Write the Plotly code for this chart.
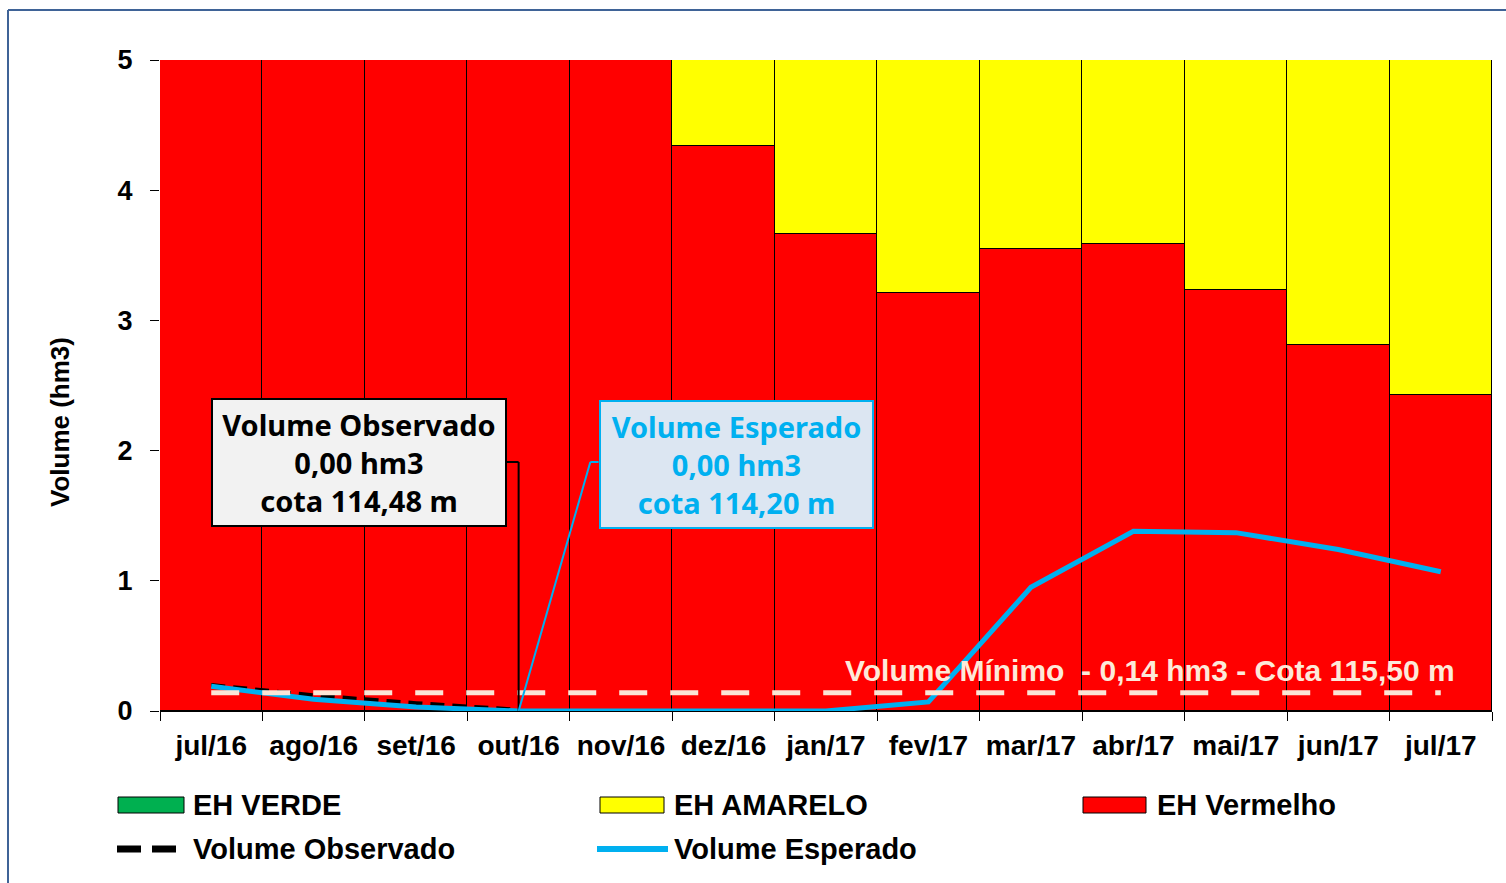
import plotly.graph_objects as go

# ---------------- data ----------------
categories = ["jul/16", "ago/16", "set/16", "out/16", "nov/16", "dez/16", "jan/17",
              "fev/17", "mar/17", "abr/17", "mai/17", "jun/17", "jul/17"]
eh_vermelho = [5.00, 5.00, 5.00, 5.00, 5.00, 4.34, 3.66, 3.21, 3.55, 3.59, 3.23, 2.81, 2.43]
eh_amarelo = [0.00, 0.00, 0.00, 0.00, 0.00, 0.66, 1.34, 1.79, 1.45, 1.41, 1.77, 2.19, 2.57]
eh_verde = [0, 0, 0, 0, 0, 0, 0, 0, 0, 0, 0, 0, 0]
vol_observado = [0.20, 0.12, 0.06, 0.01, None, None, None, None, None, None, None, None, None]
vol_esperado = [0.19, 0.09, 0.03, 0.00, 0.00, 0.00, 0.00, 0.07, 0.95, 1.38, 1.37, 1.24, 1.07]
vol_minimo = [0.14, 0.14, 0.14, 0.14, 0.14, 0.14, 0.14, 0.14, 0.14, 0.14, 0.14, 0.14, 0.14]

obs_label = "Volume Observado<br>0,00 hm3<br>cota 114,48 m"
esp_label = "Volume Esperado<br>0,00 hm3<br>cota 114,20 m"
min_label = "Volume Mínimo  - 0,14 hm3 - Cota 115,50 m"
callout_month = "out/16"

# ---------------- layout helpers ----------------
W, H = 1506, 883
L, R, T, B = 160, 14, 60, 172
PW, PH = W - L - R, H - T - B


def px(x):
    return (x - L) / PW


def py(y):
    return (H - B - y) / PH


ARIAL = "Liberation Sans, Arial, sans-serif"
CAL = "Noto Sans, Carlito, Calibri, sans-serif"
CYAN = "#00b0f0"

fig = go.Figure()
fig.add_bar(x=categories, y=eh_vermelho, name="EH Vermelho",
            marker=dict(color="#ff0000", line=dict(color="black", width=1.2)))
fig.add_bar(x=categories, y=eh_amarelo, name="EH AMARELO",
            marker=dict(color="#ffff00", line=dict(color="black", width=1.2)))
fig.add_bar(x=categories, y=eh_verde, name="EH VERDE",
            marker=dict(color="#00b050", line=dict(color="black", width=1.2)))
fig.add_scatter(x=categories, y=vol_observado, name="Volume Observado", mode="lines",
                line=dict(color="black", width=4, dash="14px,8px"))
fig.add_scatter(x=categories, y=vol_esperado, name="Volume Esperado", mode="lines",
                line=dict(color=CYAN, width=5))
fig.add_scatter(x=categories, y=vol_minimo, name="Volume Mínimo", mode="lines",
                line=dict(color="#fbe5d6", width=5, dash="28px,23px"))

fig.update_layout(
    width=W, height=H, barmode="stack", bargap=0,
    margin=dict(l=L, r=R, t=T, b=B),
    paper_bgcolor="white", plot_bgcolor="white",
    showlegend=False,
    font=dict(family=ARIAL, color="black"),
)
fig.update_xaxes(showgrid=False, showline=True, linecolor="black", linewidth=1,
                 ticks="outside", tickson="boundaries", ticklen=9, tickcolor="black",
                 tickfont=dict(family=ARIAL, size=28, weight="bold", color="black"),
                 ticklabelstandoff=9)
fig.update_yaxes(range=[0, 5], dtick=1, showgrid=False, zeroline=False, showline=False,
                 ticks="outside", ticklen=9, tickcolor="black",
                 tickfont=dict(family=ARIAL, size=27, weight="bold", color="black"),
                 ticklabelstandoff=12)

anns = []
shapes = []

# y axis title
anns.append(dict(x=px(60), y=py(422), xref="paper", yref="paper", text="Volume (hm3)",
                 textangle=-90, showarrow=False, xanchor="center", yanchor="middle",
                 font=dict(family=ARIAL, size=26, weight="bold", color="black")))

# Volume minimo label
anns.append(dict(x=px(1457), y=py(670), xref="paper", yref="paper", text=min_label,
                 xanchor="right", yanchor="middle", showarrow=False,
                 font=dict(family=ARIAL, size=30, weight="bold", color="#fde9d9")))

# callouts
anns.append(dict(x=px(359), y=py(462), xref="paper", yref="paper", text=obs_label,
                 showarrow=False, width=292, height=125, borderpad=0,
                 xanchor="center", yanchor="middle",
                 bgcolor="#f2f2f2", bordercolor="black", borderwidth=2,
                 font=dict(family=CAL, size=29, weight="bold", color="black")))
anns.append(dict(x=px(736.5), y=py(464), xref="paper", yref="paper", text=esp_label,
                 showarrow=False, width=271, height=125, borderpad=0,
                 xanchor="center", yanchor="middle",
                 bgcolor="#dce6f2", bordercolor=CYAN, borderwidth=2,
                 font=dict(family=CAL, size=29, weight="bold", color=CYAN)))

# connectors (pointing at the callout month value)
ci = categories.index(callout_month)
obs_y = 0.0
esp_y = vol_esperado[ci]
bend_y = (H - B - 462) / PH * 5
shapes.append(dict(type="line", xref="x", yref="y", x0=ci - 0.115, x1=ci, y0=bend_y, y1=bend_y,
                   line=dict(color="black", width=2)))
shapes.append(dict(type="line", xref="x", yref="y", x0=ci, x1=ci, y0=bend_y, y1=obs_y,
                   line=dict(color="black", width=2)))
shapes.append(dict(type="line", xref="x", yref="y", x0=ci + 0.78, x1=ci + 0.70, y0=bend_y, y1=bend_y,
                   line=dict(color=CYAN, width=2)))
shapes.append(dict(type="line", xref="x", yref="y", x0=ci + 0.70, x1=ci, y0=bend_y, y1=esp_y,
                   line=dict(color=CYAN, width=2)))

# custom legend
leg_font = dict(family=ARIAL, size=29, weight="bold", color="black")
for x0, x1, col, label, tx in [(118, 184, "#00b050", "EH VERDE", 191),
                               (600, 664, "#ffff00", "EH AMARELO", 672),
                               (1083, 1146, "#ff0000", "EH Vermelho", 1155)]:
    shapes.append(dict(type="rect", xref="paper", yref="paper", x0=px(x0), x1=px(x1),
                       y0=py(813), y1=py(797), fillcolor=col, line=dict(color="black", width=1)))
    anns.append(dict(x=px(tx), y=py(805), xref="paper", yref="paper", text=label,
                     xanchor="left", yanchor="middle", showarrow=False, font=leg_font))
shapes.append(dict(type="line", xref="paper", yref="paper", x0=px(117), x1=px(176),
                   y0=py(849), y1=py(849), line=dict(color="black", width=7, dash="24px,11px")))
anns.append(dict(x=px(191), y=py(849), xref="paper", yref="paper", text="Volume Observado",
                 xanchor="left", yanchor="middle", showarrow=False, font=leg_font))
shapes.append(dict(type="line", xref="paper", yref="paper", x0=px(597), x1=px(668),
                   y0=py(849), y1=py(849), line=dict(color=CYAN, width=6)))
anns.append(dict(x=px(672), y=py(849), xref="paper", yref="paper", text="Volume Esperado",
                 xanchor="left", yanchor="middle", showarrow=False, font=leg_font))

# outer frame
shapes.append(dict(type="line", xref="paper", yref="paper", x0=px(8), x1=px(1530),
                   y0=py(10), y1=py(10), line=dict(color="#3f6397", width=2)))
shapes.append(dict(type="line", xref="paper", yref="paper", x0=px(8), x1=px(8),
                   y0=py(10), y1=py(900), line=dict(color="#3f6397", width=2)))

fig.update_layout(annotations=anns, shapes=shapes)
fig.write_html("out.html", config={"displayModeBar": False},
               post_script="document.body.style.margin='0px';")
